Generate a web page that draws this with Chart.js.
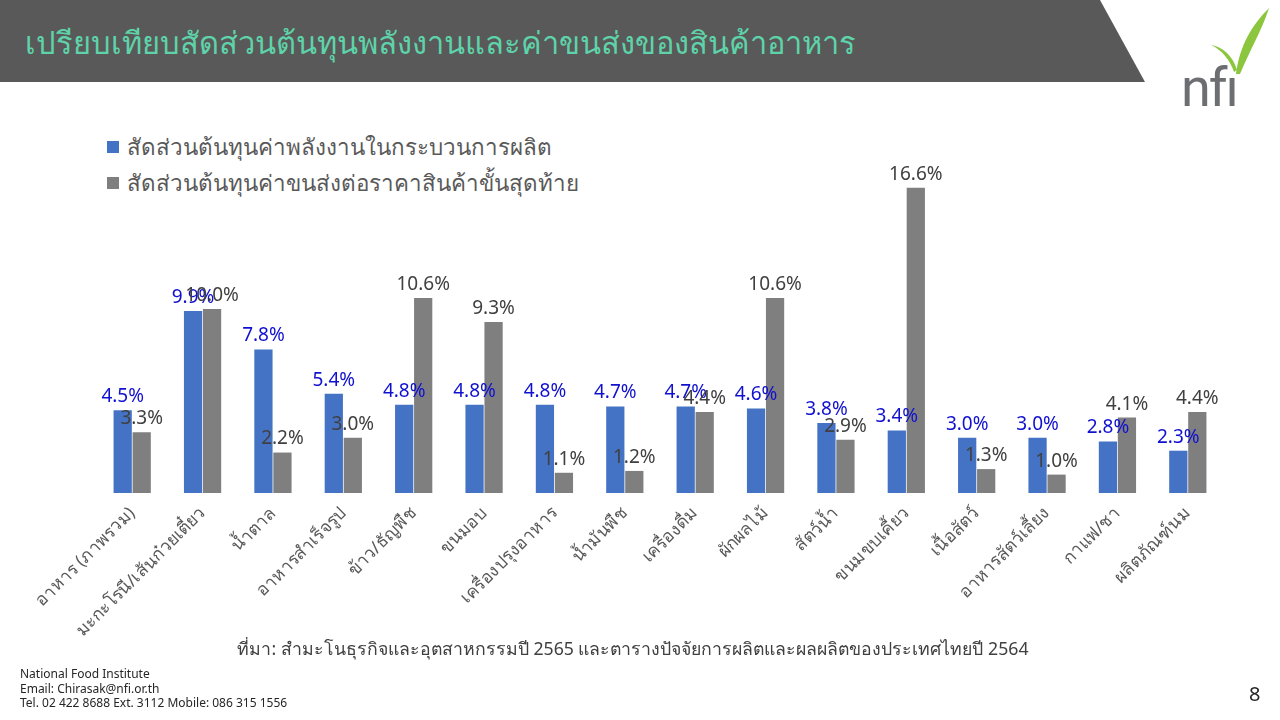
<!DOCTYPE html>
<html>
<head>
<meta charset="utf-8">
<script src="https://cdn.jsdelivr.net/npm/chart.js@4.4.1/dist/chart.umd.min.js"></script>
<style>
  html, body { margin:0; padding:0; width:1280px; height:720px; background:#fff; overflow:hidden; font-family: Tahoma, "Noto Sans", "DejaVu Sans", sans-serif; }
  #band { position:absolute; left:0; top:0; width:1280px; height:82px; }
  #title { position:absolute; left:25px; top:19px; font-size:30.8px; color:#5ed3a9; white-space:nowrap; }
  #logo { position:absolute; left:1170px; top:0; width:110px; height:130px; }
  #legend { position:absolute; left:107px; top:129px; font-size:22.4px; color:#595959; }
  .lg { display:flex; align-items:center; height:36px; white-space:nowrap; }
  .lg span.box { display:inline-block; width:12px; height:12px; margin-right:8px; }
  #wrap { position:absolute; left:0; top:0; width:1280px; height:720px; }
  #source { position:absolute; left:0; width:1266px; top:635px; text-align:center; font-size:17.7px; color:#404040; }
  #contact { position:absolute; left:20px; top:667px; font-size:12px; color:#262626; line-height:14.5px; }
  #page { position:absolute; left:1249px; top:680px; font-size:20px; color:#262626; }
</style>
</head>
<body>
<svg id="band" viewBox="0 0 1280 82"><polygon points="0,0 1100,0 1145,82 0,82" fill="#595959"/></svg>
<div id="title">เปรียบเทียบสัดส่วนต้นทุนพลังงานและค่าขนส่งของสินค้าอาหาร</div>
<svg id="logo" viewBox="0 0 110 130">
  <path d="M66,74 C 70,45 82,25 99,8 C 92,30 80,50 70,74 Z" fill="#8cc63f"/>
  <path d="M64,72 C 60,60 52,50 41,45 C 53,47 63,56 67,70 Z" fill="#8cc63f"/>
  <text x="11" y="106" font-family="Roboto, Liberation Sans, sans-serif" font-weight="400" font-size="54" fill="#6d6e71" letter-spacing="-2" transform="scale(1,1)">nfı</text>
</svg>
<div id="legend"></div>
<div id="wrap"><canvas id="c" width="1280" height="720"></canvas></div>
<div id="source">ที่มา: สำมะโนธุรกิจและอุตสาหกรรมปี 2565 และตารางปัจจัยการผลิตและผลผลิตของประเทศไทยปี 2564</div>
<div id="contact">National Food Institute<br>Email: Chirasak@nfi.or.th<br>Tel. 02 422 8688 Ext. 3112 Mobile: 086 315 1556</div>
<div id="page">8</div>
<script>
const categories = ["อาหาร (ภาพรวม)","มะกะโรนี/เส้นก๋วยเตี๋ยว","น้ำตาล","อาหารสำเร็จรูป","ข้าว/ธัญพืช","ขนมอบ","เครื่องปรุงอาหาร","น้ำมันพืช","เครื่องดื่ม","ผักผลไม้","สัตว์น้ำ","ขนมขบเคี้ยว","เนื้อสัตว์","อาหารสัตว์เลี้ยง","กาแฟ/ชา","ผลิตภัณฑ์นม"];
const energyShare = [4.5,9.9,7.8,5.4,4.8,4.8,4.8,4.7,4.7,4.6,3.8,3.4,3.0,3.0,2.8,2.3];
const transportShare = [3.3,10.0,2.2,3.0,10.6,9.3,1.1,1.2,4.4,10.6,2.9,16.6,1.3,1.0,4.1,4.4];
const seriesNames = ["สัดส่วนต้นทุนค่าพลังงานในกระบวนการผลิต","สัดส่วนต้นทุนค่าขนส่งต่อราคาสินค้าขั้นสุดท้าย"];
const seriesColors = ["#4472C4","#7F7F7F"];
const labelColors = ["#1010D0","#404040"];
const FONT = 'Tahoma, "Noto Sans", "DejaVu Sans", sans-serif';

const valueLabels = {
  id: 'valueLabels',
  afterDatasetsDraw(chart) {
    const ctx = chart.ctx;
    ctx.save();
    ctx.font = '19px ' + FONT;
    ctx.textAlign = 'center';
    ctx.textBaseline = 'bottom';
    chart.data.datasets.forEach((ds, di) => {
      const meta = chart.getDatasetMeta(di);
      ctx.fillStyle = labelColors[di];
      meta.data.forEach((bar, i) => {
        ctx.fillText(ds.data[i].toFixed(1) + '%', bar.x, bar.y - 4);
      });
    });
    ctx.restore();
  }
};

const chart = new Chart(document.getElementById('c'), {
  type: 'bar',
  data: {
    labels: categories,
    datasets: [
      { label: seriesNames[0], data: energyShare, backgroundColor: seriesColors[0], categoryPercentage: 0.54, barPercentage: 0.96 },
      { label: seriesNames[1], data: transportShare, backgroundColor: seriesColors[1], categoryPercentage: 0.54, barPercentage: 0.96 }
    ]
  },
  options: {
    responsive: false,
    animation: false,
    layout: { padding: { left: 97, right: 57, top: 162, bottom: 82 } },
    plugins: { legend: { display: false }, tooltip: { enabled: false } },
    scales: {
      x: {
        grid: { display: false },
        border: { display: false },
        ticks: { autoSkip: false, minRotation: 45, maxRotation: 45, padding: 2, color: '#595959', font: { family: FONT, size: 17.5 } },
        afterFit: s => { s.height = 145; }
      },
      y: {
        display: false, min: 0, max: 18,
        afterFit: s => { s.width = 0; }
      }
    }
  },
  plugins: [valueLabels]
});

const lg = document.getElementById('legend');
chart.data.datasets.forEach((ds) => {
  const row = document.createElement('div');
  row.className = 'lg';
  const b = document.createElement('span');
  b.className = 'box';
  b.style.background = ds.backgroundColor;
  row.appendChild(b);
  row.appendChild(document.createTextNode(ds.label));
  lg.appendChild(row);
});
</script>
</body>
</html>
